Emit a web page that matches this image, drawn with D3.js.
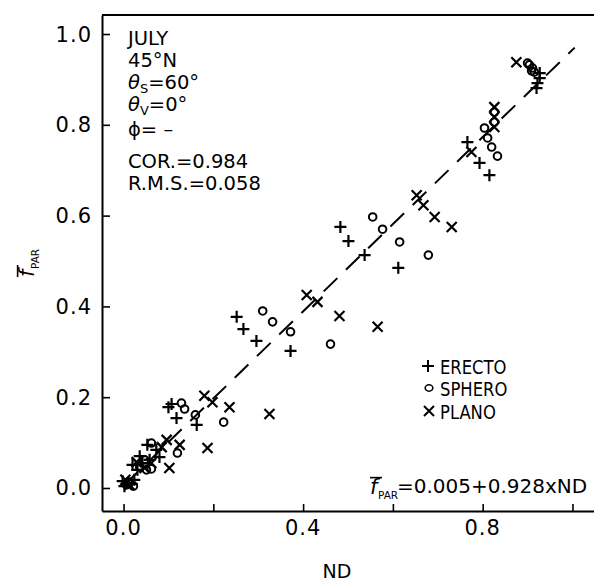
<!DOCTYPE html>
<html>
<head>
<meta charset="utf-8">
<script src="https://cdnjs.cloudflare.com/ajax/libs/d3/7.8.5/d3.min.js"></script>
<style>
  body { margin: 0; background: #fff; }
  text { font-family: "DejaVu Sans", sans-serif; fill: #000; }
</style>
</head>
<body>
<script>
// values: ND (x) vs mean fPAR (y)
const erectoX = [0.927, 0.927, 0.922, 0.920, 0.766, 0.793, 0.815, 0.483, 0.501, 0.537, 0.612,
  0.252, 0.267, 0.296, 0.372, 0.100, 0.107, 0.118, 0.163, 0.053, 0.073, 0.080, 0.020, 0.042,
  0.031, 0.009, 0.002, 0.018, -0.002, 0.024, 0.058, 0.036];
const erectoY = [0.914, 0.903, 0.892, 0.881, 0.762, 0.716, 0.689, 0.575, 0.544, 0.513, 0.485,
  0.377, 0.350, 0.324, 0.302, 0.178, 0.185, 0.154, 0.139, 0.095, 0.084, 0.068, 0.051, 0.055,
  0.040, 0.011, 0.004, 0.009, 0.015, 0.018, 0.062, 0.070];

const spheroX = [0.904, 0.911, 0.915, 0.900, 0.909, 0.826, 0.826, 0.804, 0.811, 0.820, 0.833,
  0.555, 0.577, 0.615, 0.679, 0.461, 0.310, 0.332, 0.372, 0.223, 0.129, 0.136, 0.160, 0.062,
  0.120, 0.062, 0.036, 0.047, 0.013, 0.007, 0.022, 0.051];
const spheroY = [0.932, 0.925, 0.916, 0.936, 0.919, 0.828, 0.806, 0.793, 0.771, 0.751, 0.731,
  0.597, 0.570, 0.542, 0.513, 0.317, 0.390, 0.366, 0.344, 0.145, 0.187, 0.174, 0.161, 0.099,
  0.077, 0.042, 0.046, 0.062, 0.013, 0.007, 0.004, 0.040];

const planoX = [0.875, 0.826, 0.826, 0.826, 0.775, 0.653, 0.668, 0.693, 0.731, 0.408, 0.432,
  0.481, 0.566, 0.180, 0.198, 0.236, 0.325, 0.187, 0.096, 0.085, 0.125, 0.102, 0.047, 0.029,
  0.013, 0.004, 0.062];
const planoY = [0.938, 0.839, 0.817, 0.795, 0.740, 0.645, 0.623, 0.597, 0.575, 0.425, 0.410,
  0.379, 0.355, 0.203, 0.189, 0.178, 0.163, 0.088, 0.106, 0.090, 0.095, 0.044, 0.044, 0.057,
  0.007, 0.018, 0.055];

// regression line as drawn
const fitX = [0.0, 1.005];
const fitY = [0.005, 0.970];

const xTicks = [0, 0.2, 0.4, 0.6, 0.8, 1.0];
const xTickLabels = ["0.0", "", "0.4", "", "0.8", ""];
const yTicks = [0, 0.2, 0.4, 0.6, 0.8, 1.0];
const yTickLabels = ["0.0", "0.2", "0.4", "0.6", "0.8", "1.0"];
const legendLabels = ["ERECTO", "SPHERO", "PLANO"];

const W = 594, H = 582;
const svg = d3.select("body").append("svg")
    .attr("width", W).attr("height", H);

const x = d3.scaleLinear().domain([-0.048, 1.048]).range([102, 594]);
const y = d3.scaleLinear().domain([-0.0507, 1.0419]).range([511, 15]);

// axes, ticks pointing inward
const xAxis = svg.append("g")
    .attr("transform", "translate(0," + y.range()[0] + ")")
    .call(d3.axisTop(x).tickValues(xTicks).tickSize(7).tickFormat("").tickSizeOuter(0));
xAxis.selectAll("text").remove();
const yAxis = svg.append("g")
    .attr("transform", "translate(" + x.range()[0] + ",0)")
    .call(d3.axisRight(y).tickValues(yTicks).tickSize(8).tickFormat("").tickSizeOuter(0));
svg.selectAll(".domain").attr("stroke", "#000").attr("stroke-width", 2);
svg.selectAll(".tick line").attr("stroke", "#000").attr("stroke-width", 1.6);

// top frame line
svg.append("line")
    .attr("x1", x.range()[0]).attr("x2", x.range()[1])
    .attr("y1", y.range()[1]).attr("y2", y.range()[1])
    .attr("stroke", "#000").attr("stroke-width", 2);

svg.append("g").selectAll("text")
    .data(xTicks)
    .enter().append("text")
    .attr("x", d => x(d))
    .attr("y", 535)
    .attr("text-anchor", "middle")
    .attr("font-size", 21)
    .attr("letter-spacing", 1)
    .text((d, i) => xTickLabels[i]);

svg.append("g").selectAll("text")
    .data(yTicks)
    .enter().append("text")
    .attr("x", 92)
    .attr("y", d => y(d) + 7.5)
    .attr("text-anchor", "end")
    .attr("font-size", 21)
    .attr("letter-spacing", 1)
    .text((d, i) => yTickLabels[i]);

svg.append("text")
    .attr("x", 337).attr("y", 578)
    .attr("text-anchor", "middle")
    .attr("font-size", 19)
    .text("ND");

// f-bar with PAR subscript
function fbar(g, size) {
    g.append("text").attr("x", 0).attr("y", 0)
        .attr("font-size", size).attr("font-style", "italic")
        .text("f");
    g.append("line")
        .attr("x1", 0).attr("x2", 12).attr("y1", -size * 0.78).attr("y2", -size * 0.78)
        .attr("stroke", "#000").attr("stroke-width", 1.6);
    g.append("text").attr("x", 8).attr("y", 5)
        .attr("font-size", size * 0.5)
        .text("PAR");
}
fbar(svg.append("g").attr("transform", "translate(34,277) rotate(-90)"), 21);
fbar(svg.append("g").attr("transform", "translate(370,494)"), 21);
svg.append("text")
    .attr("x", 397).attr("y", 493)
    .attr("font-family", "Liberation Sans, Arial, sans-serif")
    .attr("font-size", 20)
    .text("=0.005+0.928xND");

// header block
const info = svg.append("g").attr("font-size", 19.5);
info.append("text").attr("x", 128).attr("y", 45).text("JULY");
info.append("text").attr("x", 128).attr("y", 67).text("45°N");
const ts = info.append("text").attr("x", 128).attr("y", 89);
ts.append("tspan").attr("font-style", "italic").text("θ");
ts.append("tspan").attr("font-size", 13).attr("dy", 4).text("S");
ts.append("tspan").attr("dy", -4).text("=60°");
const tv = info.append("text").attr("x", 128).attr("y", 111);
tv.append("tspan").attr("font-style", "italic").text("θ");
tv.append("tspan").attr("font-size", 13).attr("dy", 4).text("V");
tv.append("tspan").attr("dy", -4).text("=0°");
info.append("text").attr("x", 128).attr("y", 136).text("ϕ=  –");
info.append("text").attr("x", 128).attr("y", 168).text("COR.=0.984");
info.append("text").attr("x", 128).attr("y", 190).text("R.M.S.=0.058");

// dashed fit line
svg.append("line")
    .attr("x1", x(fitX[0])).attr("y1", y(fitY[0]))
    .attr("x2", x(fitX[1])).attr("y2", y(fitY[1]))
    .attr("stroke", "#000").attr("stroke-width", 2)
    .attr("stroke-dasharray", "19,12");

const plusPath = "M-6,0H6M0,-6V6";
const crossPath = "M-5,-5L5,5M-5,5L5,-5";

const marks = svg.append("g").attr("stroke", "#000").attr("fill", "none").attr("stroke-width", 2.2);
marks.selectAll(".erecto")
    .data(d3.range(erectoX.length))
    .enter().append("path")
    .attr("class", "erecto")
    .attr("d", plusPath)
    .attr("transform", i => "translate(" + x(erectoX[i]) + "," + y(erectoY[i]) + ")");
marks.selectAll(".sphero")
    .data(d3.range(spheroX.length))
    .enter().append("circle")
    .attr("class", "sphero")
    .attr("r", 3.8)
    .attr("stroke-width", 2)
    .attr("cx", i => x(spheroX[i]))
    .attr("cy", i => y(spheroY[i]));
marks.selectAll(".plano")
    .data(d3.range(planoX.length))
    .enter().append("path")
    .attr("class", "plano")
    .attr("d", crossPath)
    .attr("transform", i => "translate(" + x(planoX[i]) + "," + y(planoY[i]) + ")");

// legend
const legend = svg.append("g").attr("transform", "translate(428,0)");
const legendY = [366, 388, 411];
legend.append("path").attr("d", plusPath).attr("transform", "translate(0," + legendY[0] + ")")
    .attr("stroke", "#000").attr("stroke-width", 2).attr("fill", "none");
legend.append("ellipse").attr("cx", 1).attr("cy", legendY[1]).attr("rx", 3.8).attr("ry", 3.2)
    .attr("stroke", "#000").attr("stroke-width", 1.6).attr("fill", "none");
legend.append("path").attr("d", crossPath).attr("transform", "translate(1," + legendY[2] + ")")
    .attr("stroke", "#000").attr("stroke-width", 2).attr("fill", "none");
legend.selectAll(".lab")
    .data(legendLabels)
    .enter().append("text")
    .attr("x", 12)
    .attr("y", (d, i) => legendY[i] + 7.5)
    .attr("font-size", 20)
    .text(d => d)
    .each(function() {
        // the original lettering is condensed
        const w = this.getComputedTextLength();
        d3.select(this).attr("textLength", w * 0.82).attr("lengthAdjust", "spacingAndGlyphs");
    });
</script>
</body>
</html>
